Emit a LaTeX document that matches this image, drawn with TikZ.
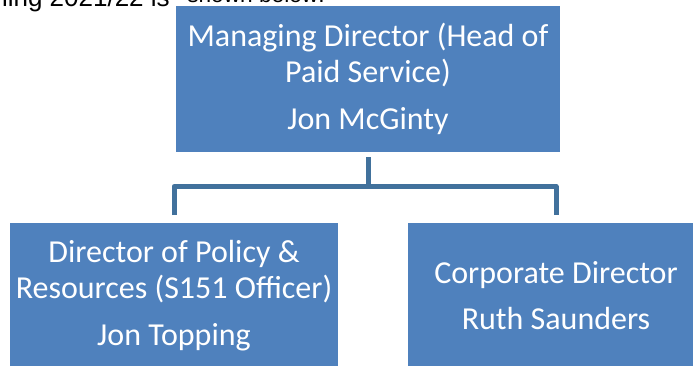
\documentclass[tikz,border=0pt]{standalone}
\usepackage{fontspec}
\setmainfont{Carlito}
\newfontfamily\arialfont{Liberation Sans}
\definecolor{boxblue}{HTML}{4F81BD}
\definecolor{linkblue}{HTML}{41719C}
\begin{document}
\begin{tikzpicture}[x=0.75pt,y=-0.75pt,
  orgbox/.style={fill=boxblue, text=white, align=center, inner sep=0pt,
    minimum height=109.5pt, font=\fontsize{24}{27}\selectfont},
  link/.style={draw=linkblue, line width=3.75pt, line join=round},
  introtext/.style={inner sep=0pt, text=black, font=\arialfont\fontsize{19.5}{20}\selectfont}]
\useasboundingbox (0,0) rectangle (693,365);
\clip (0,0) rectangle (693,365);
\node[introtext, anchor=base east] (intro) at (170,6) {ning 2021/22 is};
\begin{scope}
  \clip (180,0) rectangle (340,2.5);
  \node[introtext, anchor=base west, font=\arialfont\fontsize{17}{18}\selectfont] (frag) at (187,2.5) {shown below:};
\end{scope}
\node[orgbox, minimum width=288pt] (md) at (368,79)
  {Managing Director (Head of\\Paid Service)\\[8pt]Jon McGinty};
\node[orgbox, minimum width=246pt] (dp) at (174,295.5)
  {Director of Policy \&\\Resources (S151 Officer)\\[8pt]Jon Topping};
\node[orgbox, minimum width=222pt] (cd) at (556,295.5)
  {Corporate Director\\[8pt]Ruth Saunders};
\coordinate (bar) at (368,186.5);
\draw[link] ([yshift=-3.75pt]md.south) -- (bar);
\draw[link] ([yshift=5.25pt]dp.north) |- (bar) -| ([yshift=5.25pt]cd.north);
\end{tikzpicture}
\end{document}
